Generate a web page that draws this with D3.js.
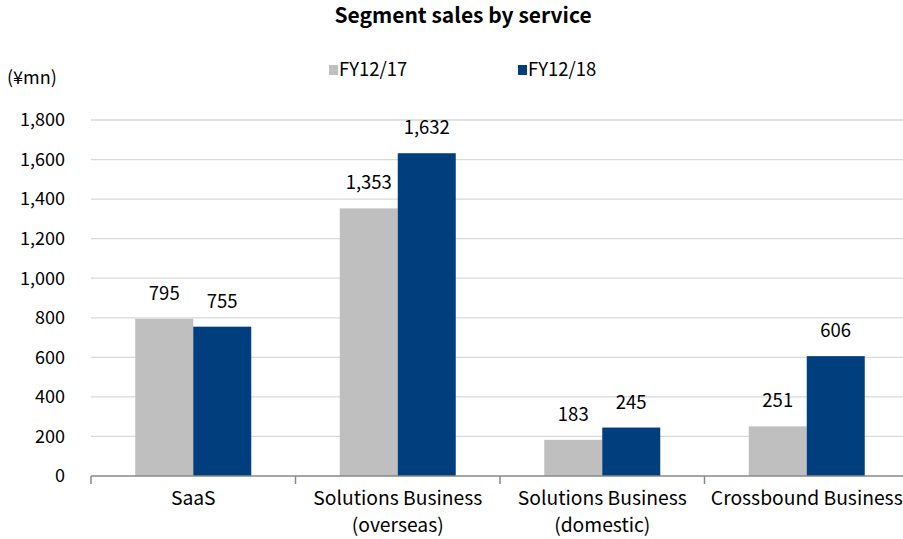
<!DOCTYPE html>
<html><head><meta charset="utf-8">
<script src="https://cdn.jsdelivr.net/npm/d3@7"></script>
<style>body{margin:0;background:#fff}text{font-family:"Noto Sans CJK JP","Noto Sans",sans-serif;fill:#000}</style>
</head><body>
<svg id="c" width="903" height="539"></svg>
<script>
const categories = [["SaaS"], ["Solutions Business", "(overseas)"], ["Solutions Business", "(domestic)"], ["Crossbound Business"]];
const seriesNames = ["FY12/17", "FY12/18"];
const fy17 = [795, 1353, 183, 251];
const fy18 = [755, 1632, 245, 606];
const yTicks = [0, 200, 400, 600, 800, 1000, 1200, 1400, 1600, 1800];
const colors = ["#BFBFBF", "#003E7E"];

(function () {
const svg = d3.select("#c");
const pL = 91, pR = 909, pT = 120, pB = 476;
const x0 = d3.scaleBand().domain(d3.range(categories.length)).range([pL, pR]).padding(0);
const x1 = d3.scaleBand().domain([0, 1]).range([0, x0.bandwidth()]).paddingInner(0).paddingOuter(0.763);
const y = d3.scaleLinear().domain([0, 1800]).range([pB, pT]);
const fmt = d3.format(",");

svg.append("g").selectAll("line").data(yTicks.filter(d => d > 0)).join("line")
  .attr("x1", pL).attr("x2", 903).attr("y1", d => y(d)).attr("y2", d => y(d))
  .attr("stroke", "#D9D9D9").attr("stroke-width", 1.3);

svg.append("g").selectAll("text").data(yTicks).join("text")
  .attr("x", 65).attr("y", d => y(d)).attr("dy", "0.35em").attr("text-anchor", "end")
  .attr("font-size", 18).text(d => fmt(d));

svg.append("text").attr("x", 7).attr("y", 78).attr("dy", "0.35em").attr("font-size", 18).text("(¥mn)");

const series = [fy17, fy18];
series.forEach((vals, si) => {
  const g = svg.append("g");
  g.selectAll("rect").data(vals).join("rect")
    .attr("x", (d, i) => x0(i) + x1(si)).attr("width", x1.bandwidth())
    .attr("y", d => y(d)).attr("height", d => y(0) - y(d)).attr("fill", colors[si]);
  g.selectAll("text").data(vals).join("text")
    .attr("x", (d, i) => x0(i) + x1(si) + x1.bandwidth() / 2).attr("y", d => y(d) - 19)
    .attr("text-anchor", "middle").attr("font-size", 18.5).text(d => fmt(d));
});

svg.append("line").attr("x1", pL).attr("x2", 903).attr("y1", pB).attr("y2", pB)
  .attr("stroke", "#898989").attr("stroke-width", 1.5);
svg.append("g").selectAll("line").data(d3.range(categories.length + 1)).join("line")
  .attr("x1", i => pL + i * x0.step()).attr("x2", i => pL + i * x0.step())
  .attr("y1", pB).attr("y2", pB + 8).attr("stroke", "#898989").attr("stroke-width", 1.5);

const xl = svg.append("g").selectAll("text").data(categories).join("text")
  .attr("text-anchor", "middle").attr("font-size", 19.3)
  .attr("transform", (d, i) => `translate(${x0(i) + x0.bandwidth() / 2},505)`);
xl.selectAll("tspan").data(d => d).join("tspan").attr("x", 0).attr("y", (d, j) => j * 27).text(d => d);

svg.append("text").attr("x", 463).attr("y", 23).attr("text-anchor", "middle")
  .attr("font-size", 21).attr("font-weight", "bold").text("Segment sales by service");

const lx = [329, 518];
seriesNames.forEach((n, i) => {
  svg.append("rect").attr("x", lx[i]).attr("y", 65).attr("width", 9).attr("height", 10).attr("fill", colors[i]);
  svg.append("text").attr("x", lx[i] + 10).attr("y", 70).attr("dy", "0.35em").attr("font-size", 18.5).text(n);
});
})();
</script>
</body></html>
